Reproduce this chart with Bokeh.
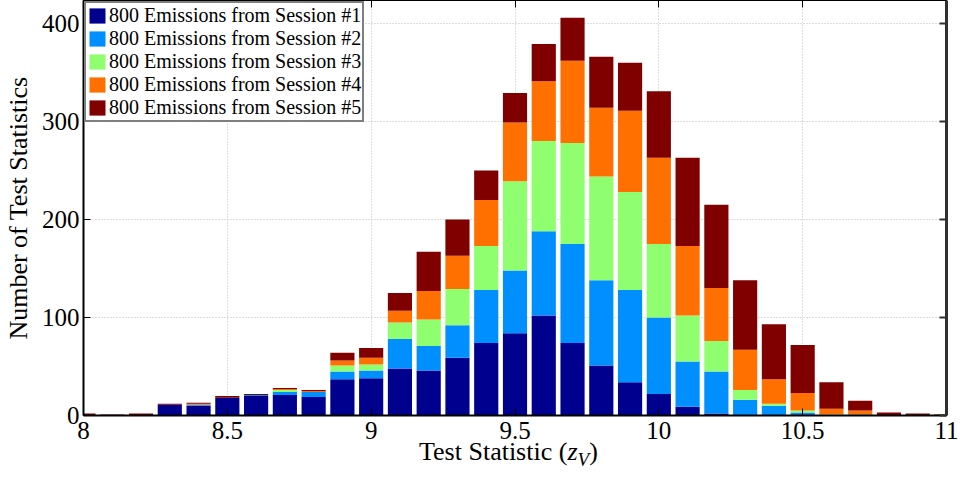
from bokeh.plotting import figure
from bokeh.models import (ColumnDataSource, FixedTicker, LinearAxis, Range1d,
                          Legend, Div, CustomJSTickFormatter)
from bokeh.layouts import column
from bokeh.embed import file_html
from bokeh.resources import INLINE

bins = [8.0, 8.1, 8.2, 8.3, 8.4, 8.5, 8.6, 8.7, 8.8, 8.9, 9.0, 9.1, 9.2, 9.3,
        9.4, 9.5, 9.6, 9.7, 9.8, 9.9, 10.0, 10.1, 10.2, 10.3, 10.4, 10.5,
        10.6, 10.7, 10.8, 10.9, 11.0]
session1 = [0, 0, 0, 11, 10, 18, 20, 21, 19, 37, 38, 48, 46, 59, 74, 84, 102,
            74, 51, 34, 22, 9, 2, 0, 0, 0, 0, 0, 0, 0, 0]
session2 = [0, 0, 0, 0, 1, 0, 1, 3, 5, 8, 8, 30, 25, 33, 54, 64, 86, 101, 87,
            94, 78, 46, 43, 16, 10, 3, 0, 1, 0, 0, 0]
session3 = [0, 0, 0, 0, 0, 0, 0, 2, 0, 6, 6, 17, 27, 37, 45, 91, 92, 103, 106,
            100, 75, 47, 31, 10, 2, 2, 1, 0, 0, 0, 0]
session4 = [0, 0, 0, 0, 1, 0, 0, 1, 1, 5, 7, 12, 29, 34, 47, 60, 61, 84, 70,
            83, 88, 71, 54, 41, 25, 18, 6, 4, 0, 0, 0]
session5 = [2, 1, 2, 1, 1, 2, 1, 1, 1, 8, 10, 18, 40, 37, 30, 30, 38, 44, 52,
            49, 68, 90, 85, 71, 56, 49, 27, 10, 3, 2, 1]
series_names = ["800 Emissions from Session #1", "800 Emissions from Session #2",
                "800 Emissions from Session #3", "800 Emissions from Session #4",
                "800 Emissions from Session #5"]
colors = ["#00008F", "#008FFF", "#8FFF70", "#FF7000", "#800000"]
x_ticks = [8, 8.5, 9, 9.5, 10, 10.5, 11]
x_tick_labels = ["8", "8.5", "9", "9.5", "10", "10.5", "11"]
y_ticks = [0, 100, 200, 300, 400]

keys = ["s1", "s2", "s3", "s4", "s5"]
source = ColumnDataSource(dict(x=bins, s1=session1, s2=session2, s3=session3,
                               s4=session4, s5=session5))

FONT = "Liberation Serif"

p = figure(width=961, height=446, output_backend="svg", toolbar_location=None,
           x_range=Range1d(8, 11), y_range=Range1d(0, 423.5),
           min_border_left=80, min_border_right=15, min_border_top=0,
           min_border_bottom=31)
p.background_fill_color = "white"
p.border_fill_color = "white"
p.outline_line_color = "black"
p.outline_line_width = 1

renderers = p.vbar_stack(keys, x="x", width=0.084, source=source, color=colors,
                         line_color=None)

legend = Legend(items=[(name, [r]) for name, r in zip(series_names, renderers)],
                location="top_left")
legend.margin = 1
legend.padding = 1
legend.spacing = 0
legend.glyph_width = 20
legend.glyph_height = 19
legend.label_height = 19
legend.label_standoff = 2
legend.label_text_font = FONT
legend.label_text_font_size = "20px"
legend.label_text_color = "black"
legend.border_line_color = "black"
legend.border_line_width = 2
legend.background_fill_alpha = 1
p.add_layout(legend, "center")

# axes
p.xaxis.ticker = FixedTicker(ticks=x_ticks)
p.xaxis.major_label_overrides = {t: l for t, l in zip(x_ticks, x_tick_labels)}
p.yaxis.ticker = FixedTicker(ticks=y_ticks)
for ax in (p.xaxis[0], p.yaxis[0]):
    ax.major_tick_in = 7
    ax.major_tick_out = 0
    ax.minor_tick_line_color = None
    ax.axis_line_color = "black"
    ax.axis_line_width = 2
    ax.major_tick_line_color = "black"
    ax.major_label_text_font = FONT
    ax.major_label_text_font_size = "25px"
    ax.major_label_text_color = "black"
p.xaxis.major_label_standoff = 6
p.yaxis.major_label_standoff = 4
p.yaxis.axis_label = "Number of Test Statistics"
p.yaxis.axis_label_text_font = FONT
p.yaxis.axis_label_text_font_size = "26px"
p.yaxis.axis_label_text_font_style = "normal"
p.yaxis.axis_label_text_color = "black"
p.yaxis.axis_label_standoff = 6

blank = CustomJSTickFormatter(code="return ''")
top_axis = LinearAxis(ticker=FixedTicker(ticks=x_ticks), major_tick_in=7,
                      major_tick_out=0, minor_tick_line_color=None,
                      formatter=blank, major_label_standoff=0,
                      axis_line_color="black", axis_line_width=1)
p.add_layout(top_axis, "above")
right_axis = LinearAxis(ticker=FixedTicker(ticks=y_ticks), major_tick_in=7,
                        major_tick_out=0, minor_tick_line_color=None,
                        formatter=blank, major_label_standoff=0,
                        axis_line_color="#303030", axis_line_width=3,
                        major_tick_line_color="#303030", major_tick_line_width=2)
p.add_layout(right_axis, "right")

p.grid.grid_line_color = "#bdbdbd"
p.grid.grid_line_dash = "1 2"
p.xgrid.ticker = FixedTicker(ticks=x_ticks)
p.ygrid.ticker = FixedTicker(ticks=y_ticks)

# x-axis label with italic z and subscript V
xlabel = Div(
    text=("<div style=\"position:relative; top:-7px; padding-left:419px; "
          "font-family:'Liberation Serif'; font-size:26px; line-height:1; "
          "color:black; white-space:nowrap;\">Test Statistic (<i>z</i>"
          "<sub style=\"font-size:19px; font-style:italic;\">V</sub>)</div>"),
    width=961, height=31, margin=0)

layout = column(p, xlabel, spacing=0)

open("out.html", "w").write(file_html(layout, INLINE))
